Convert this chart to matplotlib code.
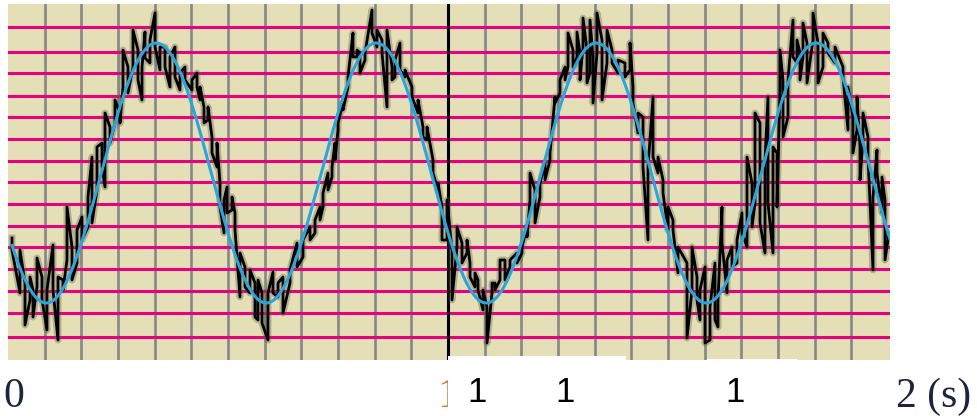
import numpy as np
import matplotlib
matplotlib.use("Agg")
import matplotlib.pyplot as plt
from matplotlib.patches import Rectangle
from matplotlib.transforms import blended_transform_factory

FS = 440.0  # recorder sample rate, samples per second

# Peak-detect record: for each bin, the sample index and the max / min ADC counts
bin_index = [4, 12, 17, 22, 25, 29, 34, 39, 45, 50, 55, 59, 64, 69, 74, 80, 84, 89, 94, 97,
             102, 107, 112, 115, 120, 125, 130, 134, 137, 142, 147, 152, 157, 162, 167, 172, 177, 184, 189, 192,
             196, 200, 204, 209, 212, 216, 219, 224, 227, 232, 237, 242, 247, 250, 254, 260, 265, 270, 275, 282,
             289, 295, 302, 307, 312, 315, 320, 324, 327, 330, 335, 340, 345, 349, 352, 357, 364, 369, 374, 379,
             384, 387, 392, 397, 404, 410, 415, 419, 425, 430, 434, 439, 444, 449, 454, 459, 462, 467, 470, 475,
             479, 484, 487, 492, 497, 502, 509, 514, 519, 522, 527, 532, 537, 542, 547, 552, 557, 560, 565, 569,
             572, 575, 579, 582, 585, 589, 594, 599, 604, 610, 617, 622, 625, 630, 635, 640, 645, 650, 655, 660,
             665, 670, 679, 684, 689, 692, 697, 702, 707, 710, 714, 719, 724, 729, 734, 739, 744, 747, 752, 757,
             760, 765, 769, 772, 775, 780, 785, 789, 792, 795, 799, 805, 810, 815, 820, 827, 835, 840, 845, 849,
             852, 855, 860, 865, 869, 874, 877, 880]
bin_max = [122, 110, 77, 83, 70, 102, 83, 70, 115, 83, 80, 153, 113, 130, 143, 163, 203, 213, 217, 247,
           233, 260, 247, 310, 293, 330, 310, 293, 328, 320, 347, 313, 313, 303, 313, 287, 293, 280, 287, 273,
           253, 253, 223, 217, 177, 160, 173, 163, 147, 107, 93, 90, 77, 80, 67, 67, 88, 77, 83, 90,
           117, 120, 133, 140, 153, 167, 187, 193, 217, 237, 257, 283, 327, 310, 307, 307, 350, 330, 320, 330,
           293, 300, 317, 290, 273, 260, 233, 233, 200, 177, 153, 160, 110, 133, 117, 120, 97, 87, 80, 70,
           53, 77, 77, 100, 100, 100, 107, 113, 133, 187, 170, 177, 197, 207, 263, 280, 293, 327, 310, 328,
           307, 342, 310, 340, 303, 347, 320, 330, 310, 300, 297, 317, 273, 247, 243, 193, 263, 203, 180, 153,
           140, 113, 97, 113, 83, 70, 93, 53, 97, 60, 153, 100, 113, 120, 147, 203, 177, 247, 237, 200,
           263, 213, 207, 310, 280, 280, 340, 320, 307, 337, 317, 347, 317, 327, 317, 313, 293, 273, 243, 263,
           213, 247, 223, 163, 210, 183, 160, 127]
bin_min = [110, 67, 35, 60, 43, 73, 60, 30, 70, 20, 70, 100, 80, 97, 120, 133, 137, 170, 193, 173,
           217, 237, 237, 273, 267, 293, 280, 260, 302, 297, 313, 290, 293, 273, 283, 270, 280, 270, 273, 260,
           237, 240, 207, 193, 153, 127, 147, 150, 130, 63, 73, 67, 43, 40, 37, 20, 67, 63, 47, 77,
           93, 103, 120, 127, 140, 153, 170, 183, 200, 230, 250, 273, 303, 303, 287, 300, 327, 313, 307, 253,
           280, 283, 290, 283, 263, 247, 223, 220, 187, 170, 120, 120, 60, 113, 97, 107, 83, 73, 70, 50,
           17, 67, 70, 80, 80, 93, 97, 107, 123, 160, 137, 163, 180, 200, 257, 267, 280, 293, 293, 303,
           280, 313, 277, 287, 257, 307, 260, 297, 297, 287, 283, 290, 257, 227, 193, 120, 203, 187, 167, 130,
           130, 87, 22, 70, 60, 40, 17, 20, 40, 33, 117, 67, 93, 97, 127, 113, 133, 157, 137, 107,
           157, 107, 153, 270, 223, 243, 303, 297, 280, 303, 277, 320, 277, 293, 307, 297, 283, 230, 207, 230,
           180, 220, 203, 90, 187, 147, 100, 120]

# Least-squares sinusoid through the record (ADC counts, Hz, s)
fit_offset = 187.0
fit_amplitude = 130.0
fit_freq = 2.0
fit_peak_time = 0.337

# Chart-paper rulings: horizontal levels (counts) and time divisions (s)
hline_levels = [22.7, 47.3, 69.3, 91.0, 112.7, 134.3, 156.0, 177.7, 199.3, 221.0,
                242.7, 264.3, 286.7, 307.7, 332.7]
division_count = 23
division_step = 1.0 / 12.0
marker_time = 1.0

tick_values = [-0.011, 1.0, 2.19]
tick_labels = ["0", "1", "2 (s)"]
tick_colors = ["#1c2440", "#c8843e", "#1c2440"]
tick_align = ["left", "center", "right"]
extra_label_times = [1.066, 1.266, 1.652]
extra_labels = ["1", "1", "1"]

PAPER = "#e5dfb8"
MAGENTA = "#e8007f"
RULE_GRAY = "#878787"
FIT_BLUE = "#2aa6de"

fig = plt.figure(figsize=(9.78, 4.16), dpi=100)
fig.patch.set_facecolor("white")
ax = fig.add_axes([8 / 978, 56 / 416, 882 / 978, 356 / 416])
ax.set_facecolor(PAPER)
ax.set_xlim(0, 882 / FS)
ax.set_ylim(0, 356)
for s in ax.spines.values():
    s.set_visible(False)
ax.set_xticks([])
ax.set_yticks([])

# vertical time divisions
for k in range(1, division_count + 1):
    ax.axvline(k * division_step, color=RULE_GRAY, lw=1.9, zorder=1)
# horizontal magenta rulings
for lv in hline_levels:
    ax.axhline(lv, color=MAGENTA, lw=2.2, zorder=2)
# one-second marker
ax.axvline(marker_time, color="black", lw=2.2, zorder=3)

# noisy record drawn as min/max spikes
xs, ys = [], []
for i, (n, hi, lo) in enumerate(zip(bin_index, bin_max, bin_min)):
    a, b = (hi, lo) if i % 2 == 0 else (lo, hi)
    xs += [n / FS, n / FS]
    ys += [a, b]
xs = np.array(xs)
ys = np.array(ys)
ax.plot(xs, ys, color="#5c5c44", lw=5.0, alpha=0.35, zorder=4, solid_joinstyle="round")
ax.plot(xs, ys, color="black", lw=2.0, zorder=4.5, solid_joinstyle="round")

# fitted sinusoid
t = np.linspace(4 / FS, 882 / FS, 1200)
fit = fit_offset + fit_amplitude * np.cos(2 * np.pi * fit_freq * (t - fit_peak_time))
ax.plot(t, fit, color=FIT_BLUE, lw=2.2, zorder=5)

trans = blended_transform_factory(ax.transData, ax.transAxes)
for v, lab, c, ha in zip(tick_values, tick_labels, tick_colors, tick_align):
    ax.text(v, -0.132, lab, transform=trans, ha=ha, va="baseline", fontsize=30,
            family="Liberation Serif", color=c, zorder=6, clip_on=False)

# white label strip over the lower axis area
ax.add_patch(Rectangle((0.4989, -0.20), 0.2018, 0.2124, transform=ax.transAxes,
                       facecolor="white", edgecolor="none", zorder=10, clip_on=False))
ax.add_patch(Rectangle((0.7925, -0.20), 0.102, 0.2034, transform=ax.transAxes,
                       facecolor="white", edgecolor="none", zorder=10, clip_on=False))

for v, lab in zip(extra_label_times, extra_labels):
    ax.text(v, -0.118, lab, transform=trans, ha="center", va="baseline", fontsize=25,
            family="Liberation Sans", color="black", zorder=11, clip_on=False)

fig.savefig("out.png", dpi=100, facecolor="white")
